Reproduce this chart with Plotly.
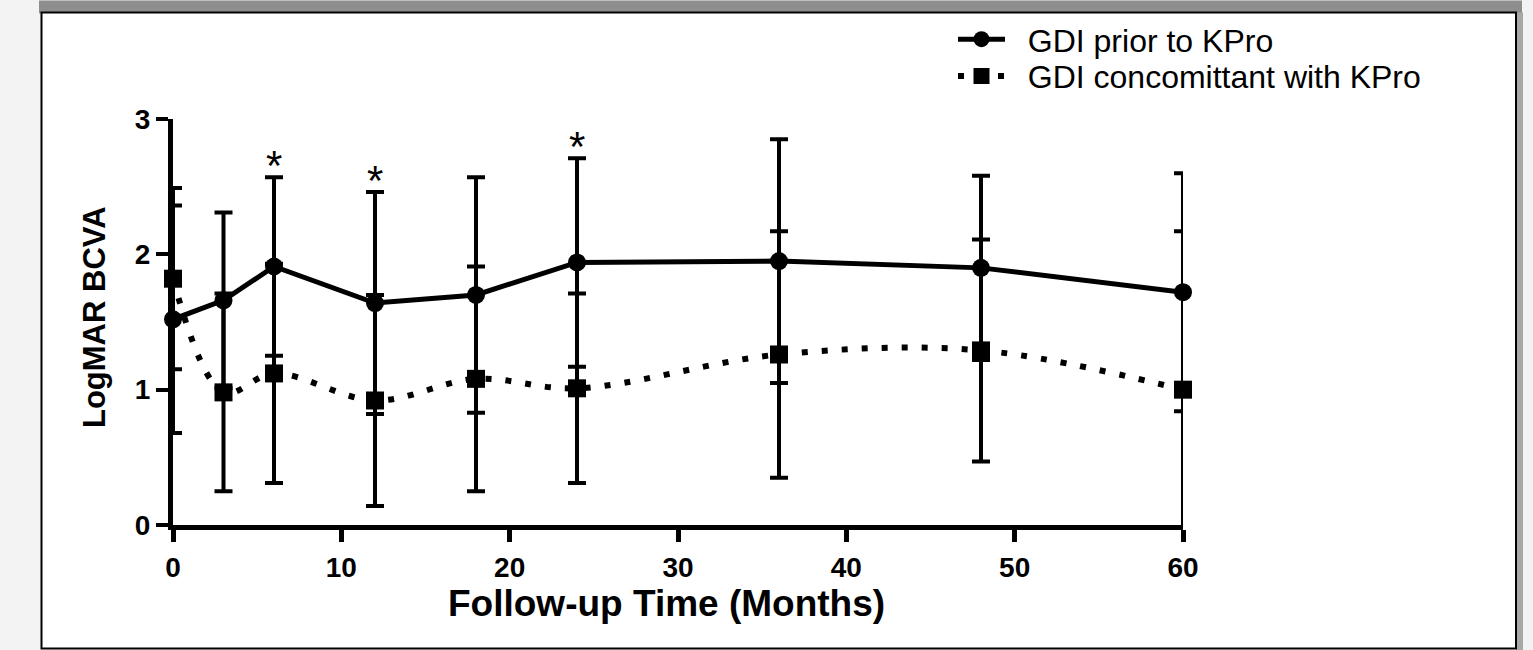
import plotly.graph_objects as go

# ---- data ----
months = [0, 3, 6, 12, 18, 24, 36, 48, 60]
prior_mean = [1.52, 1.66, 1.91, 1.64, 1.70, 1.94, 1.95, 1.90, 1.72]
prior_sd = [0.84, 0.65, 0.66, 0.82, 0.87, 0.77, 0.90, 0.68, 0.88]
conc_mean = [1.82, 0.98, 1.12, 0.92, 1.08, 1.01, 1.26, 1.29, 1.00]
conc_sd = [0.67, 0.73, 0.81, 0.78, 0.83, 0.70, 0.91, 0.82, 1.17]
sig_months = [6, 12, 24]
x_ticks = [0, 10, 20, 30, 40, 50, 60]
y_ticks = [0, 1, 2, 3]
series_names = ["GDI prior to KPro", "GDI concomittant with KPro"]

W, H = 1533, 650
L, R, T, B = 173, 1183, 117, 525  # plot area pixels


def px(xp):
    return (xp - L) / (R - L)


def py(yp):
    return (B - yp) / (B - T)


FONT = "Liberation Sans, Arial, sans-serif"
GAP = "\u00a0\u00a0"  # visual gap between legend symbol and label

fig = go.Figure()

fig.add_trace(go.Scatter(
    x=months, y=conc_mean, name=GAP + series_names[1], mode="lines+markers",
    line=dict(color="black", width=6, dash="6px,14px", shape="spline", smoothing=1.0),
    marker=dict(symbol="square", size=18, color="black"),
    error_y=dict(type="data", array=conc_sd, color="black", thickness=4, width=9),
    cliponaxis=False, legend="legend2",
))
fig.add_trace(go.Scatter(
    x=months, y=prior_mean, name=GAP + series_names[0], mode="lines+markers",
    line=dict(color="black", width=5),
    marker=dict(symbol="circle", size=18, color="black"),
    error_y=dict(type="data", array=prior_sd, color="black", thickness=4, width=9),
    cliponaxis=False, legend="legend",
))

annotations = []
for m in sig_months:
    i = months.index(m)
    annotations.append(dict(
        x=m, y=prior_mean[i] + prior_sd[i], xref="x", yref="y",
        text="*", showarrow=False, yanchor="bottom", yshift=-14,
        font=dict(family=FONT, size=42, color="black"),
    ))

annotations.append(dict(
    x=px(666), y=py(581), xref="paper", yref="paper", xanchor="center", yanchor="top",
    text="<b>Follow-up Time (Months)</b>", showarrow=False,
    font=dict(family=FONT, size=37, color="black"),
))
annotations.append(dict(
    x=px(94), y=py(316), xref="paper", yref="paper", xanchor="center", yanchor="middle",
    text="<b>LogMAR BCVA</b>", showarrow=False, textangle=-90,
    font=dict(family=FONT, size=31, color="black"),
))

shapes = [
    # top dark band
    dict(type="rect", xref="paper", yref="paper", x0=px(39), x1=px(1522), y0=py(11), y1=py(-2),
         fillcolor="#8e8e8e", line=dict(width=0), layer="below"),
    # right shadow
    dict(type="rect", xref="paper", yref="paper", x0=px(1516), x1=px(1523), y0=py(652), y1=py(10),
         fillcolor="#a8a8a8", line=dict(width=0), layer="below"),
    # white panel with black border
    dict(type="rect", xref="paper", yref="paper", x0=px(41.5), x1=px(1516), y0=py(649), y1=py(10),
         fillcolor="white", line=dict(color="black", width=2), layer="below"),
]

leg_common = dict(xanchor="left", yanchor="middle", bgcolor="rgba(0,0,0,0)",
                  font=dict(family=FONT, size=32, color="black"), itemwidth=47)

fig.update_layout(
    width=W, height=H,
    margin=dict(l=L, r=W - R, t=T, b=H - B, pad=0),
    paper_bgcolor="#f3f3f3", plot_bgcolor="rgba(0,0,0,0)",
    font=dict(family=FONT, color="black"),
    showlegend=True,
    legend=dict(x=px(953), y=py(37), **leg_common),
    legend2=dict(x=px(953), y=py(74), **leg_common),
    annotations=annotations, shapes=shapes,
)

fig.update_xaxes(
    range=[0, 60], tickvals=x_ticks, showgrid=False, zeroline=False,
    showline=True, linecolor="black", linewidth=5,
    ticks="outside", ticklen=12, tickwidth=5, tickcolor="black",
    tickfont=dict(family=FONT, size=28, color="black", weight="bold"),
    ticklabelstandoff=1,
)
fig.update_yaxes(
    range=[0, 3], tickvals=y_ticks, showgrid=False, zeroline=False,
    showline=True, linecolor="black", linewidth=5,
    ticks="outside", ticklen=12, tickwidth=4, tickcolor="black",
    tickfont=dict(family=FONT, size=28, color="black", weight="bold"),
    ticklabelstandoff=0,
)

fig.write_html("out.html", config={"displayModeBar": False},
               post_script="document.body.style.margin='0px';")
